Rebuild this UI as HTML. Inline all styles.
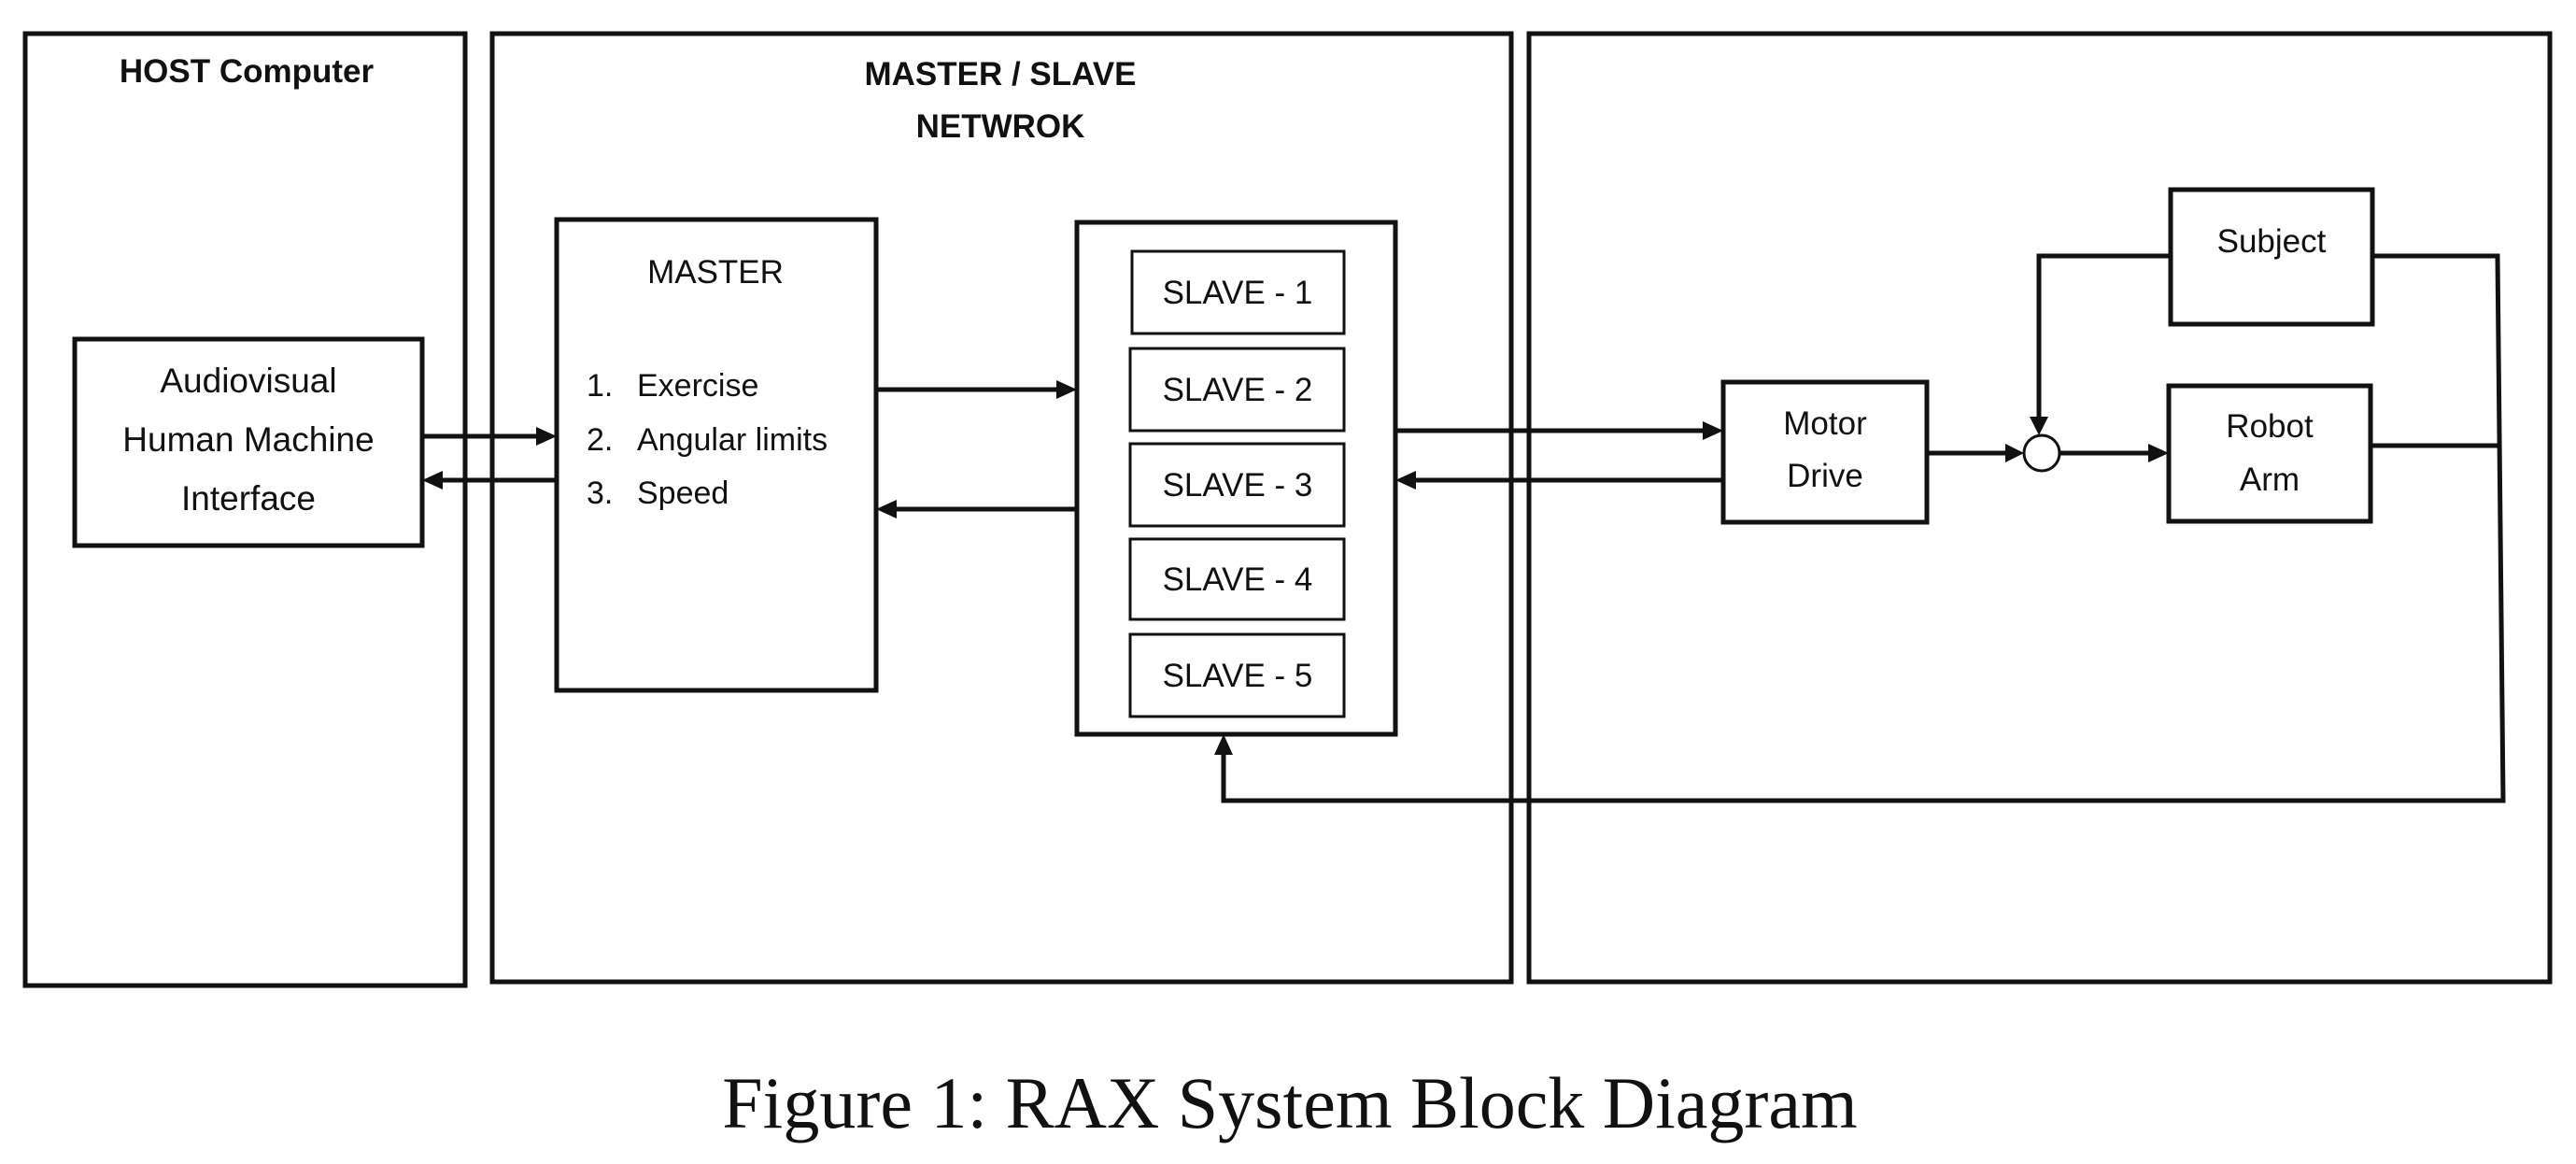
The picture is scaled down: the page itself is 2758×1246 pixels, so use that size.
<!DOCTYPE html>
<html><head><style>
html,body{margin:0;padding:0;background:#fff;}
svg{display:block;}
text{font-family:"Liberation Sans",sans-serif;fill:#111;}
</style></head><body>
<svg width="2758" height="1246" viewBox="0 0 2758 1246" xmlns="http://www.w3.org/2000/svg">
<g fill="none" stroke="#111" stroke-width="5">
<rect x="27" y="36" width="471" height="1019"/>
<rect x="527" y="36" width="1091" height="1015"/>
<rect x="1637" y="36" width="1093" height="1015"/>
<rect x="80" y="363" width="372" height="221"/>
<rect x="596" y="235" width="342" height="504"/>
<rect x="1153" y="238" width="341" height="548"/>
<rect x="1212" y="269" width="227" height="88" stroke-width="3"/>
<rect x="1210" y="373" width="229" height="88" stroke-width="3"/>
<rect x="1210" y="475" width="229" height="88" stroke-width="3"/>
<rect x="1210" y="577" width="229" height="86" stroke-width="3"/>
<rect x="1210" y="679" width="229" height="88" stroke-width="3"/>
<rect x="1845" y="409" width="218" height="150"/>
<rect x="2322" y="413" width="216" height="145"/>
<rect x="2324" y="203" width="216" height="144"/>
<circle cx="2186" cy="485" r="19" stroke-width="3"/>
<path d="M452 467 H576"/>
<path d="M596 514 H472"/>
<path d="M938 417 H1133"/>
<path d="M1153 545 H958"/>
<path d="M1494 461 H1825"/>
<path d="M1845 514 H1514"/>
<path d="M2063 485 H2150"/>
<path d="M2205 485 H2302"/>
<path d="M2324 274 H2183 V448"/>
<path d="M2540 274 H2674 L2680 857 H1310 V806"/>
<path d="M2538 477 H2677"/>
</g>
<g fill="#111">
<polygon points="596,467 574,457 574,477"/>
<polygon points="452,514 474,504 474,524"/>
<polygon points="1153,417 1131,407 1131,427"/>
<polygon points="938,545 960,535 960,555"/>
<polygon points="1845,461 1823,451 1823,471"/>
<polygon points="1494,514 1516,504 1516,524"/>
<polygon points="2167,485 2147,475 2147,495"/>
<polygon points="2322,485 2300,475 2300,495"/>
<polygon points="2183,466 2173,446 2193,446"/>
<polygon points="1310,786 1300,808 1320,808"/>
</g>
<g font-size="35" text-anchor="middle">
<text x="264" y="88" font-weight="bold">HOST Computer</text>
<text x="1071" y="91" font-weight="bold">MASTER / SLAVE</text>
<text x="1071" y="147" font-weight="bold">NETWROK</text>
<text x="266" y="420" font-size="37">Audiovisual</text>
<text x="266" y="483" font-size="37">Human Machine</text>
<text x="266" y="546" font-size="37">Interface</text>
<text x="766" y="303">MASTER</text>
<text x="1325" y="325">SLAVE - 1</text>
<text x="1325" y="429">SLAVE - 2</text>
<text x="1325" y="531">SLAVE - 3</text>
<text x="1325" y="632">SLAVE - 4</text>
<text x="1325" y="735">SLAVE - 5</text>
<text x="1954" y="465">Motor</text>
<text x="1954" y="521">Drive</text>
<text x="2430" y="468">Robot</text>
<text x="2430" y="525">Arm</text>
<text x="2432" y="270">Subject</text>
</g>
<g font-size="34">
<text x="628" y="424">1.</text><text x="682" y="424">Exercise</text>
<text x="628" y="482">2.</text><text x="682" y="482">Angular limits</text>
<text x="628" y="539">3.</text><text x="682" y="539">Speed</text>
</g>
<text x="1381" y="1207" font-size="78" text-anchor="middle" style="font-family:'Liberation Serif',serif">Figure 1: RAX System Block Diagram</text>
</svg>
</body></html>
